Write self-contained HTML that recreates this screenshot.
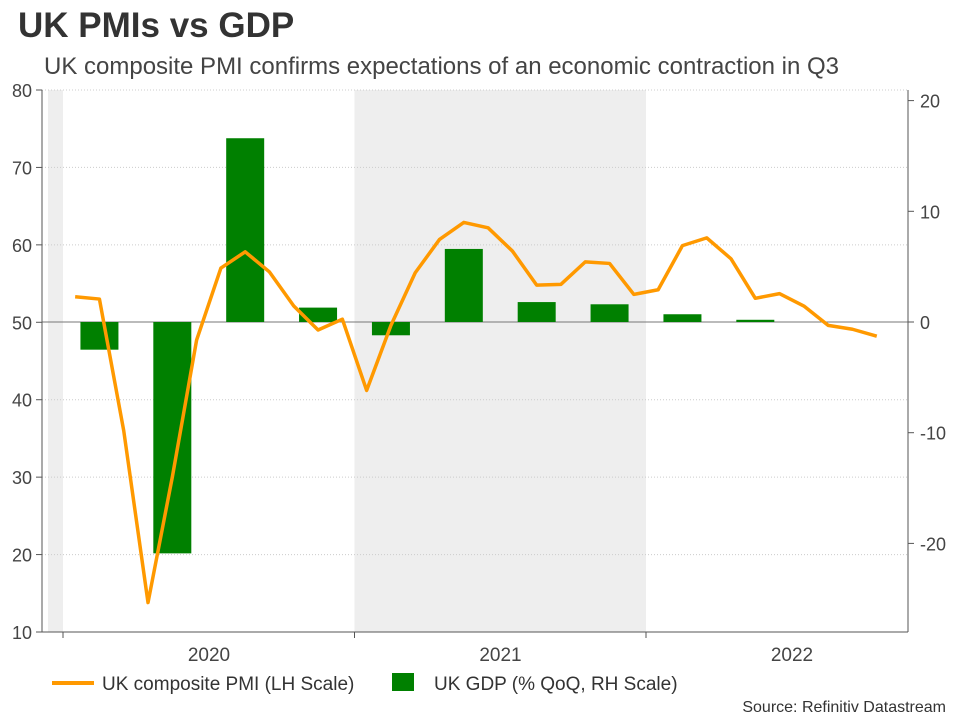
<!DOCTYPE html>
<html><head><meta charset="utf-8"><style>
body{margin:0;background:#fff;font-family:"Liberation Sans",sans-serif;}
#wrap{position:relative;width:960px;height:720px;overflow:hidden;}
</style></head><body>
<div id="wrap">
<svg id="chart" width="960" height="720" xmlns="http://www.w3.org/2000/svg">
<text x="18" y="37" font-size="35" font-weight="bold" fill="#333">UK PMIs vs GDP</text>
<text x="44" y="74" font-size="24" fill="#444">UK composite PMI confirms expectations of an economic contraction in Q3</text>
<g id="bands"></g><g id="grid"></g><g id="bars"></g><g id="lines"></g><g id="axes"></g>
<line x1="52" y1="683" x2="94" y2="683" stroke="#f90" stroke-width="4"/>
<text x="102" y="690" font-size="19" fill="#333">UK composite PMI (LH Scale)</text>
<rect x="392" y="673" width="22" height="18" fill="#008000"/>
<text x="434" y="690" font-size="19" fill="#333">UK GDP (% QoQ, RH Scale)</text>
<text x="946" y="712" font-size="16" fill="#333" text-anchor="end">Source: Refinitiv Datastream</text>
</svg></div>
<script>
const pmiValues=[53.3,53.0,36.0,13.8,30.0,47.7,57.0,59.1,56.5,52.1,49.0,50.4,41.2,49.6,56.4,60.7,62.9,62.2,59.2,54.8,54.9,57.8,57.6,53.6,54.2,59.9,60.9,58.2,53.1,53.7,52.1,49.6,49.1,48.2];
const gdpValues=[-2.5,-20.9,16.6,1.3,-1.2,6.6,1.8,1.6,0.7,0.2];
const leftTicks=[10,20,30,40,50,60,70,80];
const rightTicks=[-20,-10,0,10,20];
const yearLabels=["2020","2021","2022"];
const NS="http://www.w3.org/2000/svg";
const X0=63,MW=291.5/12,LEFT=42,RIGHT=908;
function xm(i){return X0+(i+0.5)*MW;}
function yL(v){return 90+(80-v)*542/70;}
function yR(v){return 322-v*11.07;}
function mk(tag,attrs,parent){const e=document.createElementNS(NS,tag);for(const k in attrs)e.setAttribute(k,attrs[k]);document.getElementById(parent).appendChild(e);return e;}
let e;
e=mk('rect',{x:48,y:90,width:15,height:542,fill:'#eee'},'bands');


e=mk('rect',{x:X0+291.5,y:90,width:291.5,height:542,fill:'#eee'},'bands');


leftTicks.forEach(v=>{
 if(v!==10&&v!==50){e=mk('line',{x1:LEFT,x2:RIGHT,y1:yL(v),y2:yL(v),stroke:'#ccc','stroke-dasharray':'1,2'},'grid');
 
 }
 e=mk('line',{x1:LEFT-6,x2:LEFT,y1:yL(v),y2:yL(v),stroke:'#555'},'axes');
 
 
 e=mk('text',{x:LEFT-10,y:yL(v)+7,'font-size':18,fill:'#444','text-anchor':'end'},'axes');e.textContent=v;
 
 
});
rightTicks.forEach(v=>{
 e=mk('line',{x1:RIGHT,x2:RIGHT+6,y1:yR(v),y2:yR(v),stroke:'#555'},'axes');
 
 
 e=mk('text',{x:RIGHT+12,y:yR(v)+7,'font-size':18,fill:'#444'},'axes');e.textContent=v;
 
 
});
e=mk('line',{x1:LEFT,x2:RIGHT,y1:yR(0),y2:yR(0),stroke:'#777'},'grid');


gdpValues.forEach((v,i)=>{
 const cx=xm(i*3+1),y0=yR(0),y1=yR(v);
 e=mk('rect',{x:cx-19,y:Math.min(y0,y1),width:38,height:Math.abs(y1-y0),fill:'#008000'},'bars');
 
 
});
e=mk('polyline',{points:pmiValues.map((v,i)=>xm(i)+','+yL(v)).join(' '),fill:'none',stroke:'#f90','stroke-width':3.5,'stroke-linejoin':'round'},'lines');


e=mk('line',{x1:LEFT,x2:LEFT,y1:90,y2:632,stroke:'#555'},'axes');


e=mk('line',{x1:RIGHT,x2:RIGHT,y1:90,y2:632,stroke:'#555'},'axes');


e=mk('line',{x1:LEFT,x2:RIGHT,y1:632,y2:632,stroke:'#555'},'axes');


yearLabels.forEach((t,i)=>{
 const x=X0+i*291.5;
 e=mk('line',{x1:x,x2:x,y1:632,y2:638,stroke:'#555'},'axes');
 
 
 e=mk('text',{x:x+146,y:661,'font-size':19,fill:'#444','text-anchor':'middle'},'axes');e.textContent=t;
 
 
});
</script></body></html>
